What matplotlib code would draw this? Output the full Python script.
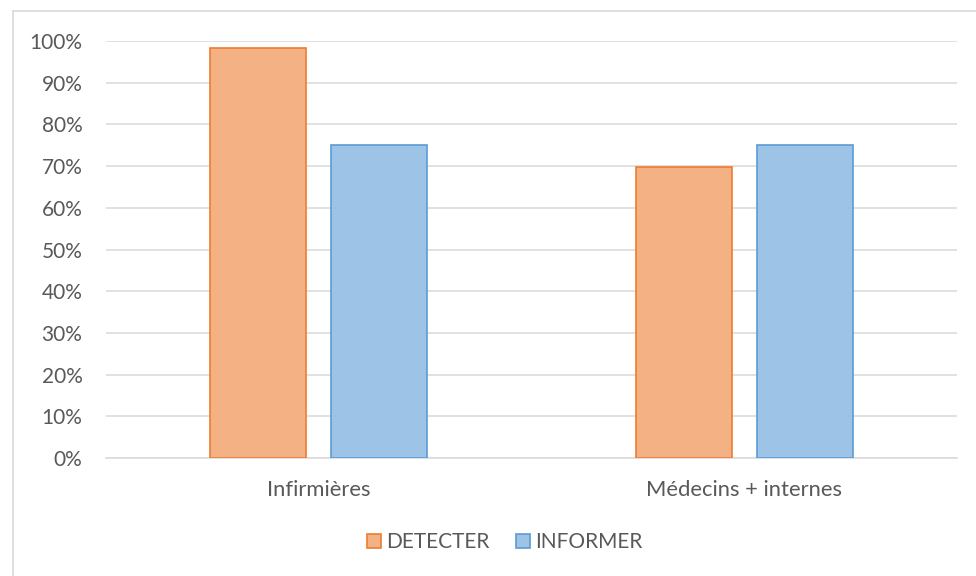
import matplotlib
matplotlib.use("Agg")
import matplotlib.pyplot as plt
from matplotlib.lines import Line2D
import numpy as np

categories = ["Infirmières", "Médecins + internes"]
series_names = ["DETECTER", "INFORMER"]
detecter = [0.984, 0.697]
informer = [0.750, 0.750]
yticks = [0.0, 0.1, 0.2, 0.3, 0.4, 0.5, 0.6, 0.7, 0.8, 0.9, 1.0]
ytick_labels = ["0%", "10%", "20%", "30%", "40%", "50%", "60%", "70%", "80%", "90%", "100%"]

plt.rcParams['font.family'] = ['Lato', 'DejaVu Sans']
txt = "#595959"
grid = "#D9D9D9"

fig = plt.figure(figsize=(9.76, 5.76), dpi=100)
ax = fig.add_axes([106/976, 1-458/576, (957-106)/976, (458-41)/576])

x = np.arange(len(categories))
w = 0.2256
off = 0.142
ax.bar(x - off, detecter, w, color="#F4B183", edgecolor="#ED7D31", linewidth=1.2, label=series_names[0], zorder=3)
ax.bar(x + off, informer, w, color="#9DC3E6", edgecolor="#5B9BD5", linewidth=1.2, label=series_names[1], zorder=3)

ax.set_xlim(-0.5, 1.5)
ax.set_ylim(0, 1.0)
ax.set_yticks(yticks)
ax.set_yticklabels(ytick_labels)
ax.set_xticks(x)
ax.set_xticklabels(categories)
ax.yaxis.grid(True, color=grid, linewidth=1.1, zorder=0)
ax.set_axisbelow(True)
for s in ["top", "right", "left"]:
    ax.spines[s].set_visible(False)
ax.spines["bottom"].set_color(grid)
ax.spines["bottom"].set_linewidth(1.1)
ax.tick_params(axis="both", length=0, colors=txt, labelsize=15)
ax.tick_params(axis="y", pad=17)
ax.tick_params(axis="x", pad=16, labelsize=15.8)

handles = [
    Line2D([], [], marker="s", linestyle="none", markersize=10, markerfacecolor="#F4B183", markeredgecolor="#ED7D31", markeredgewidth=1.2),
    Line2D([], [], marker="s", linestyle="none", markersize=10, markerfacecolor="#9DC3E6", markeredgecolor="#5B9BD5", markeredgewidth=1.2),
]
leg = fig.legend(handles, series_names, loc="center", bbox_to_anchor=(504/976, 1-542/576), ncol=2, frameon=False,
                 fontsize=15, handletextpad=0.2, columnspacing=1.2, handlelength=0.8, labelcolor=txt)

# outer chart border (left and top visible)
fig.add_artist(Line2D([12.5/976, 12.5/976], [0, 1-11/576], color=grid, linewidth=1.2, transform=fig.transFigure))
fig.add_artist(Line2D([12.5/976, 1], [1-11/576, 1-11/576], color=grid, linewidth=1.2, transform=fig.transFigure))

fig.savefig("out.png", dpi=100)
